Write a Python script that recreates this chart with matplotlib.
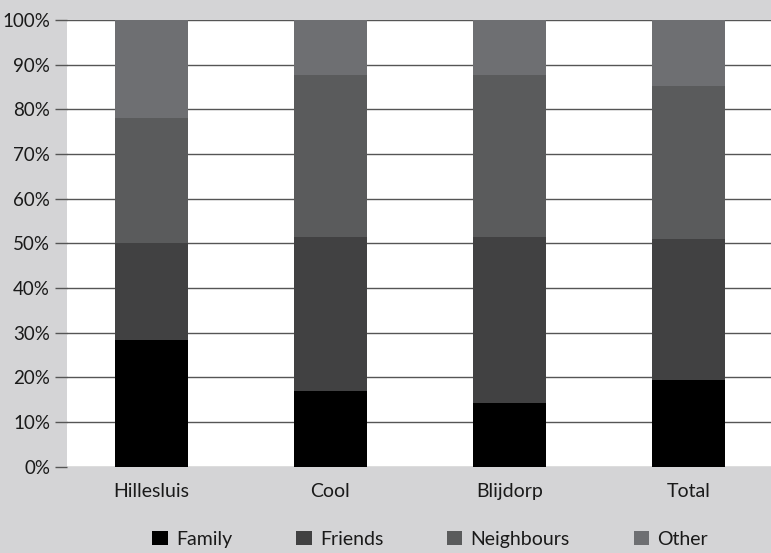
import matplotlib
matplotlib.use("Agg")
import matplotlib.pyplot as plt
from matplotlib.patches import Patch
import numpy as np

plt.rcParams['font.family'] = ['Lato', 'DejaVu Sans']

categories = ["Hillesluis", "Cool", "Blijdorp", "Total"]
series_names = ["Family", "Friends", "Neighbours", "Other"]
family = [28.3, 16.9, 14.3, 19.3]
friends = [21.8, 34.5, 37.1, 31.6]
neighbours = [28.0, 36.3, 36.3, 34.3]
other = [21.9, 12.3, 12.3, 14.8]
y_ticks = [0, 10, 20, 30, 40, 50, 60, 70, 80, 90, 100]
y_tick_labels = [f"{v}%" for v in y_ticks]

colors = ["#000000", "#414142", "#5a5b5c", "#6e6f72"]
bg = "#d4d4d6"
text_col = "#1a1a1a"
fs = 14

fig = plt.figure(figsize=(7.71, 5.53), dpi=100, facecolor=bg)
ax = fig.add_axes([66.7 / 771, 1 - 466.5 / 553, 1 - 66.7 / 771, (466.5 - 20) / 553])
ax.set_facecolor("white")

x = np.arange(len(categories))
bottom = np.zeros(len(categories))
for vals, col, name in zip([family, friends, neighbours, other], colors, series_names):
    ax.bar(x, vals, width=0.408, bottom=bottom, color=col, label=name, zorder=3)
    bottom += np.array(vals)

ax.set_xlim(-0.472, 3.461)
ax.set_ylim(0, 100)
ax.set_yticks(y_ticks)
ax.set_yticklabels(y_tick_labels, fontsize=13.5, color=text_col)
ax.set_xticks(x)
ax.set_xticklabels(categories, fontsize=fs, color=text_col)
ax.tick_params(axis="y", length=9, width=1, color="#555555", pad=3)
ax.tick_params(axis="x", length=0, pad=12)
ax.yaxis.grid(True, color="#555555", linewidth=1)
ax.set_axisbelow(True)
for s in ax.spines.values():
    s.set_visible(False)

handles = [Patch(facecolor=c, edgecolor='none') for c in colors]
fig.legend(handles, series_names, loc="center", bbox_to_anchor=(0.558, 0.025),
           ncol=4, frameon=False, fontsize=fs, handlelength=0.8, handleheight=0.8,
           handletextpad=0.42, columnspacing=3.28, labelcolor=text_col,
           borderpad=0, borderaxespad=0)

fig.savefig("out.png", dpi=100, facecolor=bg)
